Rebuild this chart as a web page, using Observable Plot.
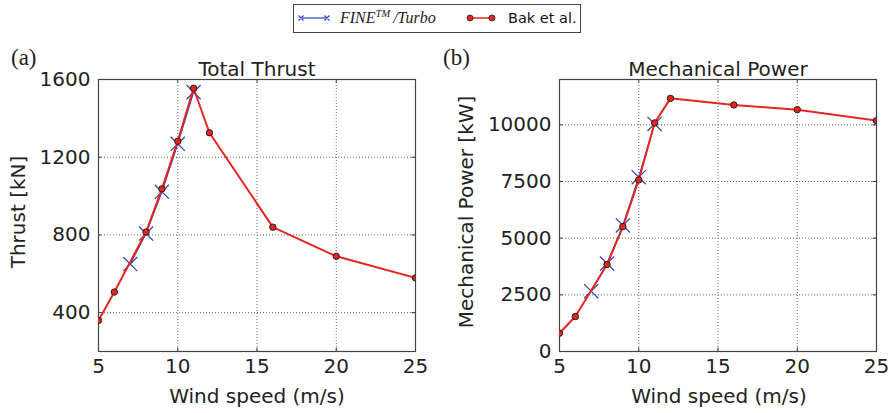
<!DOCTYPE html>
<html><head><meta charset="utf-8">
<script src="https://cdn.jsdelivr.net/npm/d3@7"></script>
<script src="https://cdn.jsdelivr.net/npm/@observablehq/plot@0.6"></script>
<style>
body{margin:0;background:#fff;width:894px;height:413px;position:relative;overflow:hidden;font-family:"DejaVu Sans",sans-serif;color:#222;}
.abs{position:absolute;white-space:nowrap;line-height:1;}
.title{font-size:20px;text-align:center;width:400px;}
.xlab{font-size:20px;text-align:center;width:400px;}
.ylab{font-size:20px;text-align:center;width:400px;transform:rotate(-90deg);}
.panel{font-family:"Liberation Serif",serif;font-size:23px;}
</style></head><body>
<script>
// ---- data ----
const windFine = [7, 8, 9, 10, 11];
const thrustFine = [650, 807, 1022, 1269, 1535];
const powerFine = [2660, 3880, 5560, 7690, 10040];

const windBak = [5, 6, 8, 9, 10, 11, 12, 16, 20, 25];
const thrustBak = [360, 506, 815, 1037, 1282, 1555, 1326, 840, 690, 579];
const powerBak = [807, 1543, 3836, 5511, 7570, 10084, 11168, 10877, 10670, 10185];

const windTicks = [5, 10, 15, 20, 25];
const thrustTicks = [400, 800, 1200, 1600];
const powerTicks = [0, 2500, 5000, 7500, 10000];

const seriesNames = ["FINE/Turbo", "Bak et al."];
const panelTitles = ["Total Thrust", "Mechanical Power"];
const yLabels = ["Thrust [kN]", "Mechanical Power [kW]"];
const xLabel = "Wind speed (m/s)";

const BLUE = "#3347b8";
const RED = "#e5261f";

const fineRows = (vals) => windFine.map((w, i) => ({w, v: vals[i]}));
const bakRows = (vals) => windBak.map((w, i) => ({w, v: vals[i]}));

function panel({width, marginLeft, marginRight, yDomain, yTicks, fine, bak}) {
  const plotH = 373 - 39 - 62;
  const plotW = width - marginLeft - marginRight;
  const dy = (yDomain[1] - yDomain[0]) * 3.5 / plotH;
  const dx = 20 * 3.5 / plotW;
  const tickStyle = {stroke: "#333", strokeWidth: 1};
  return Plot.plot({
    width, height: 373,
    marginLeft, marginRight, marginTop: 39, marginBottom: 62,
    style: {fontFamily: "DejaVu Sans", fontSize: "20px", background: "transparent", color: "#222", overflow: "visible"},
    x: {domain: [5, 25], label: null},
    y: {domain: yDomain, label: null},
    marks: [
      Plot.gridX(windTicks.slice(1, -1), {stroke: "#666", strokeOpacity: 1, strokeDasharray: "1,2", strokeWidth: 1}),
      Plot.gridY(yTicks, {stroke: "#666", strokeOpacity: 1, strokeDasharray: "1,2", strokeWidth: 1}),
      Plot.ruleX(windTicks, {x: d => d, y1: () => yDomain[0], y2: () => yDomain[0] + dy, ...tickStyle}),
      Plot.ruleX(windTicks, {x: d => d, y1: () => yDomain[1], y2: () => yDomain[1] - dy, ...tickStyle}),
      Plot.ruleY(yTicks, {y: d => d, x1: () => 5, x2: () => 5 + dx, ...tickStyle}),
      Plot.ruleY(yTicks, {y: d => d, x1: () => 25, x2: () => 25 - dx, ...tickStyle}),
      Plot.frame({stroke: "#444", strokeWidth: 1.2}),
      Plot.axisX(windTicks, {tickSize: 0, tickPadding: 7, fontSize: 20, label: null, tickFormat: d3.format("d")}),
      Plot.axisY(yTicks, {tickSize: 0, tickPadding: 8, fontSize: 20, label: null, tickFormat: d3.format("d")}),
      Plot.line(fine, {x: "w", y: "v", stroke: BLUE, strokeWidth: 1.3}),
      Plot.dot(fine, {x: "w", y: "v", symbol: "times", r: 6.5, stroke: BLUE, strokeWidth: 1.3}),
      Plot.line(bak, {x: "w", y: "v", stroke: RED, strokeWidth: 2, clip: true}),
      Plot.dot(bak, {x: "w", y: "v", r: 3.2, fill: RED, stroke: "#2a1a1a", strokeWidth: 1, clip: true})
    ]
  });
}

const a = panel({width: 440, marginLeft: 98, marginRight: 25, yDomain: [200, 1600], yTicks: thrustTicks,
  fine: fineRows(thrustFine), bak: bakRows(thrustBak)});
a.style.position = "absolute"; a.style.left = "0px"; a.style.top = "40px";
document.body.appendChild(a);

const b = panel({width: 454, marginLeft: 119, marginRight: 18, yDomain: [0, 12000], yTicks: powerTicks,
  fine: fineRows(powerFine), bak: bakRows(powerBak)});
b.style.position = "absolute"; b.style.left = "440px"; b.style.top = "40px";
document.body.appendChild(b);

function addDiv(cls, text, left, top) {
  const d = document.createElement("div");
  d.className = "abs " + cls;
  d.textContent = text;
  d.style.left = left + "px"; d.style.top = top + "px";
  document.body.appendChild(d);
  return d;
}
addDiv("panel", "(a)", 11, 46);
addDiv("panel", "(b)", 443, 46);
addDiv("title", panelTitles[0], 257 - 200, 59);
addDiv("title", panelTitles[1], 718 - 200, 59);
addDiv("xlab", xLabel, 257 - 200, 386);
addDiv("xlab", xLabel, 719 - 200, 386);
addDiv("ylab", yLabels[0], 18 - 200, 211.5 - 10);
addDiv("ylab", yLabels[1], 466 - 200, 211.5 - 10);

// ---- legend ----
const ns = "http://www.w3.org/2000/svg";
const lg = document.createElementNS(ns, "svg");
lg.setAttribute("width", 894); lg.setAttribute("height", 40);
lg.style.position = "absolute"; lg.style.left = "0px"; lg.style.top = "0px";
lg.innerHTML = `
  <rect x="293.5" y="4.5" width="287" height="28" fill="#fff" stroke="#444" stroke-width="1"/>
  <line x1="301" y1="18" x2="327" y2="18" stroke="${BLUE}" stroke-width="1.2"/>
  <path d="M298.5,15.5L303.5,20.5M303.5,15.5L298.5,20.5M324.5,15.5L329.5,20.5M329.5,15.5L324.5,20.5" stroke="${BLUE}" stroke-width="1.2"/>
  <text x="340" y="23" font-family="Liberation Serif, serif" font-style="italic" font-size="16" fill="#222">FINE<tspan font-size="10.5" dy="-6">TM</tspan><tspan dy="6" dx="3">/Turbo</tspan></text>
  <line x1="470" y1="18" x2="492" y2="18" stroke="${RED}" stroke-width="1.5"/>
  <circle cx="470" cy="18" r="3" fill="${RED}" stroke="#2a1a1a" stroke-width="0.8"/>
  <circle cx="492" cy="18" r="3" fill="${RED}" stroke="#2a1a1a" stroke-width="0.8"/>
  <text x="508" y="23" font-family="DejaVu Sans, sans-serif" font-size="14.5" fill="#111">${seriesNames[1]}</text>
`;
document.body.appendChild(lg);
</script>
</body></html>
